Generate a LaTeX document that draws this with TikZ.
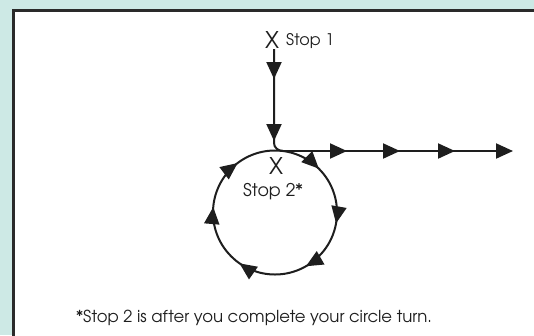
\documentclass[tikz,border=0pt]{standalone}
\usepackage{fontspec}
\setmainfont{texgyreadventor-regular.otf}
\usetikzlibrary{arrows.meta,decorations.markings}
\definecolor{bgteal}{HTML}{CDE9E5}
\definecolor{framegray}{HTML}{2A2A2A}
\definecolor{ink}{HTML}{1E1E1E}
\tikzset{
  tri/.tip={Triangle[length=17pt,width=15pt]},
  route/.style={draw=ink, line width=2pt},
  midarrows/.style={postaction={decorate},
    decoration={markings, #1}},
  stoptxt/.style={inner sep=0pt, text=ink, font=\fontsize{16}{18}\selectfont},
  xmark/.style={inner sep=0pt, text=ink, font=\fontsize{23}{25}\selectfont},
}
\begin{document}
\begin{tikzpicture}[x=1pt,y=-1pt]
\useasboundingbox (0,0) rectangle (534,335);
\fill[bgteal] (0,0) rectangle (534,335);
\draw[framegray, line width=3pt, fill=white] (13.5,10.5) rectangle (545,345);

% Stop 1
\node[xmark] (x1) at (272,40) {X};
\node[stoptxt, anchor=west] (s1) at (286,41) {Stop 1};
\coordinate (vtop) at (274,49);
\coordinate (join) at (283,151);
\coordinate (hend) at (513,151);

% vertical approach with curl into horizontal exit
\path[route, midarrows={mark=at position 30pt with {\arrow{tri}},
                         mark=at position 92pt with {\arrow{tri}}}]
  (vtop) -- (274,143) to[out=-90,in=180] (join);
\path[route, -{tri},
      midarrows={mark=at position 64pt with {\arrow{tri}},
                 mark=at position 117pt with {\arrow{tri}},
                 mark=at position 172pt with {\arrow{tri}}}]
  (join) -- (hend);

% circle
\coordinate (cc) at (275,212.5);
\path[route, midarrows={mark=at position 0.125 with {\arrow{tri}},
                         mark=at position 0.278 with {\arrow{tri}},
                         mark=at position 0.417 with {\arrow{tri}},
                         mark=at position 0.597 with {\arrow{tri}},
                         mark=at position 0.764 with {\arrow{tri}},
                         mark=at position 0.897 with {\arrow{tri}}}]
  (275,150.5) arc[start angle=-90, end angle=270, radius=62];

\node[xmark] (x2) at (276,165.5) {X};
\node[stoptxt, font=\fontsize{17.5}{19}\selectfont] (s2) at (273,192) {Stop 2*};

\node[stoptxt, font=\fontsize{16.5}{18}\selectfont] (note) at (254,318) {*Stop 2 is after you complete your circle turn.};
\end{tikzpicture}
\end{document}
